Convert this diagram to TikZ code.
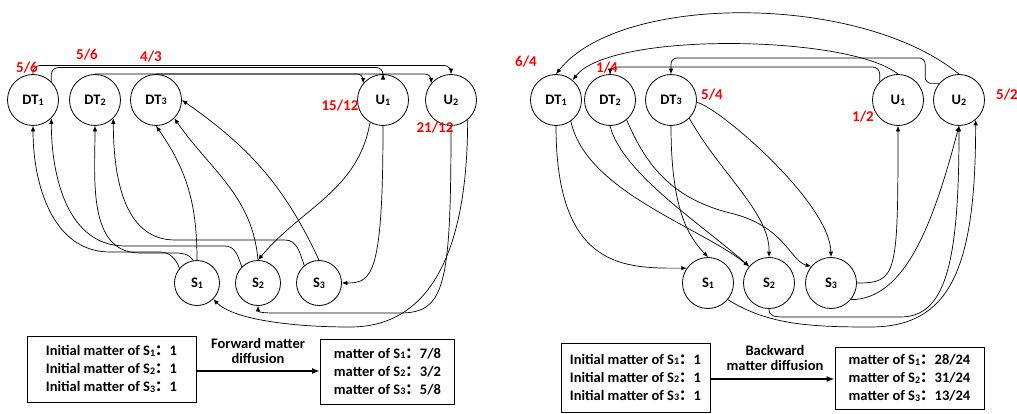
\documentclass[tikz,border=0pt]{standalone}
\usepackage{fontspec}
\setmainfont{Carlito}
\newfontfamily\cjk{Noto Sans CJK SC}
\usetikzlibrary{arrows.meta}
% small index digit sitting on the baseline
\newcommand\idx[1]{\raisebox{-0.6pt}{\fontsize{10}{10}\selectfont #1}}
% full-width colon
\newcommand\fcolon{{\cjk ：}}

\begin{document}
\begin{tikzpicture}[x=1pt,y=1pt,
  vtx/.style={circle, draw, line width=0.8pt, minimum size=51pt, inner sep=0pt,
              font=\bfseries\fontsize{14.5}{14.5}\selectfont},
  svtx/.style={vtx, minimum size=45pt},
  arr/.style={-{Latex[length=5.5pt,width=4.5pt]}, line width=0.7pt},
  val/.style={text=red, inner sep=0pt, font=\bfseries\fontsize{15}{15}\selectfont},
  infobox/.style={draw, line width=0.8pt, align=left, inner sep=0pt,
                  font=\bfseries\fontsize{14.5}{18}\selectfont},
  flow/.style={-{Latex[length=8pt,width=6pt]}, line width=1.6pt},
  flowlbl/.style={align=center, inner sep=0pt, font=\bfseries\fontsize{14.5}{15}\selectfont}]
\useasboundingbox (0,0) rectangle (1017,413);

% ---------------- forward diffusion ----------------
\node[vtx] (dtA) at (33,313) {DT\idx{1}};
\node[vtx] (dtB) at (95,313) {DT\idx{2}};
\node[vtx] (dtC) at (156,313) {DT\idx{3}};
\node[vtx] (uA) at (383,313) {U\idx{1}};
\node[vtx] (uB) at (451,313) {U\idx{2}};
\node[svtx] (sA) at (197,130) {S\idx{1}};
\node[svtx] (sB) at (258,130) {S\idx{2}};
\node[svtx] (sC) at (319,130) {S\idx{3}};

\coordinate (lvA) at (0,347.5);
\coordinate (lvB) at (0,345.5);

% DT -> U along the top
\draw[arr, rounded corners=7pt] (dtA.north) |- (uB.north |- lvA) -- (uB.north);
\draw[arr, rounded corners=7pt] (dtA.45) |- (uA.north |- lvB) -- (uA.north);
\draw[arr, rounded corners=6pt] (dtB.north) -| (uA.140);
\draw[arr, rounded corners=6pt] (dtC.north) -| (uB.140);

% S -> DT
\draw[arr] (sA.140) to[out=110,in=0] (160,161) -- (110,161) to[out=180,in=-90] (dtA.south);
\draw[arr] (sB.135) to[out=110,in=0] (225,167) -- (125,167) to[out=180,in=-90] (dtA.-45);
\draw[arr] (sA.100) to[out=120,in=0] (175,160) -- (140,160) to[out=180,in=-90] (dtB.south);
\draw[arr] (sC.130) to[out=110,in=0] (285,173) -- (175,173) to[out=180,in=-90] (dtB.-45);
\draw[arr] (sA.north) to[out=90,in=-55] (dtC.south);
\draw[arr] (sB.north) to[out=95,in=-55] (dtC.-45);
\draw[arr] (sC.north) to[out=115,in=-35] (dtC.east);

% U -> S
\draw[arr] (uA.-120) to[out=-100,in=50] (sB.north);
\draw[arr] (uA.south) .. controls +(0,-150) and +(30,0) .. (sC.east);
\draw[arr] (uB.south) .. controls +(0,-160) and +(45,0) .. (400,100) -- (275,100)
           .. controls +(-13,0) and +(0,-6) .. (sB.south);
\draw[arr] (uB.-50) .. controls +(0,-190) and +(40,0) .. (350,86)
           .. controls +(-60,0) and +(20,-20) .. (sA.-45);

% matter values
\node[val] (vA) at (27,345) {5/6};
\node[val] (vB) at (87,358) {5/6};
\node[val] (vC) at (151,356) {4/3};
\node[val] (vD) at (340,307) {15/12};
\node[val] (vE) at (435,285) {21/12};

% summary
\node[infobox, minimum width=169pt, minimum height=66pt] (inL) at (111.5,44)
  {Initial matter of S\idx{1}\fcolon 1\\Initial matter of S\idx{2}\fcolon 1\\Initial matter of S\idx{3}\fcolon 1};
\node[infobox, minimum width=134pt, minimum height=65pt, anchor=west] (outL) at (320,41.5)
  {matter of S\idx{1}\fcolon 7/8\\matter of S\idx{2}\fcolon 3/2\\matter of S\idx{3}\fcolon 5/8};
\draw[flow] (inL.east |- 0,42) -- (outL.west |- 0,42);
\node[flowlbl] (fwd) at (258,62.5) {Forward matter\\diffusion};

% ---------------- backward diffusion ----------------
\node[vtx] (bdA) at (556,313) {DT\idx{1}};
\node[vtx] (bdB) at (610,313) {DT\idx{2}};
\node[vtx] (bdC) at (671,313) {DT\idx{3}};
\node[vtx] (buA) at (898,313) {U\idx{1}};
\node[vtx] (buB) at (959,313) {U\idx{2}};
\node[vtx] (bsA) at (708,130) {S\idx{1}};
\node[vtx] (bsB) at (769,130) {S\idx{2}};
\node[vtx] (bsC) at (831,130) {S\idx{3}};

\coordinate (rvA) at (0,346);
\coordinate (rvB) at (0,355);

% S -> U
\draw[arr] (bsC.east) .. controls +(40,0) and +(0,-150) .. (buA.south);
\draw[arr] (bsC.-40) .. controls +(55,0) and +(-25,-95) .. (buB.south);
\draw[arr] (bsB.south) .. controls +(0,-7) and +(-12,0) .. (785,96) -- (900,96)
           .. controls +(45,0) and +(0,-140) .. (buB.south);
\draw[arr] (bsA.-40) .. controls +(40,-25) and +(-60,0) .. (870,86)
           .. controls +(80,0) and +(0,-150) .. (buB.-50);

% U -> DT
\draw[arr] (buA.north) .. controls (850,378) and (610,382) .. (bdA.50);
\draw[arr] (buB.north) .. controls (860,420) and (620,420) .. (bdA.north);
\draw[arr, rounded corners=7pt] (buA.135) |- (bdB.north |- rvA) -- (bdB.north);
\draw[arr, rounded corners=6pt] (buB.140) -- ++(-14,0) |- (bdC.north |- rvB) -- (bdC.north);

% DT -> S
\draw[arr] (bdA.south) .. controls +(0,-145) and +(-60,0) .. (bsA.145);
\draw[arr] (bdA.-55) .. controls +(15,-70) and +(-50,40) .. (bsB.140);
\draw[arr] (bdB.south) .. controls (622,240) and (700,190) .. (bsB.140);
\draw[arr] (bdB.-50) .. controls (645,250) and (670,215) .. (730,200)
           .. controls (785,187) and (790,152) .. (bsC.140);
\draw[arr] (bdC.south) .. controls (671,200) and (690,175) .. (bsA.north);
\draw[arr] (bdC.-45) .. controls (720,240) and (770,200) .. (bsB.north);
\draw[arr] (bdC.-5) .. controls (720,305) and (830,210) .. (bsC.north);

% matter values
\node[val] (wA) at (526,351) {6/4};
\node[val] (wB) at (607,345) {1/4};
\node[val] (wC) at (712,318) {5/4};
\node[val] (wD) at (863,296) {1/2};
\node[val] (wE) at (1007,318) {5/2};

% summary
\node[infobox, minimum width=149pt, minimum height=69pt] (inR) at (635.5,35.5)
  {Initial matter of S\idx{1}\fcolon 1\\Initial matter of S\idx{2}\fcolon 1\\Initial matter of S\idx{3}\fcolon 1};
\node[infobox, minimum width=149pt, minimum height=62pt] (outR) at (909.5,35)
  {matter of S\idx{1}\fcolon 28/24\\matter of S\idx{2}\fcolon 31/24\\matter of S\idx{3}\fcolon 13/24};
\draw[flow] (inR.east |- 0,34) -- (outR.west |- 0,34);
\node[flowlbl] (bwd) at (775,55.5) {Backward\\matter diffusion};
\end{tikzpicture}
\end{document}
